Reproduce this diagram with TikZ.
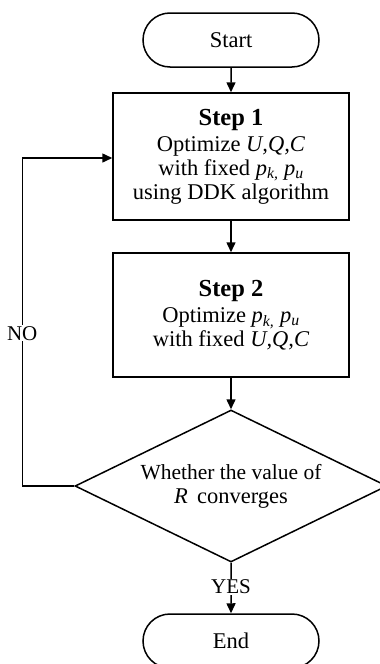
\documentclass[tikz,border=0pt]{standalone}
\usepackage{fontspec}
\setmainfont{Liberation Serif}
\usetikzlibrary{arrows.meta,shapes.geometric,shapes.misc}
\newcommand{\vr}[1]{\textit{#1}}
\newcommand{\pk}{\vr{p}\textsubscript{\vr{k,}}}
\newcommand{\pu}{\vr{p}\textsubscript{\vr{u}}}
\begin{document}
\begin{tikzpicture}[x=1pt,y=1pt,
  line width=1.5pt,
  font=\fontsize{22.5}{24}\selectfont,
  terminal/.style={draw,rounded rectangle,minimum width=176pt,minimum height=54pt,inner sep=0pt},
  stepbox/.style={draw,rectangle,minimum width=236pt,align=center,inner sep=0pt},
  decision/.style={draw,diamond,minimum width=312pt,minimum height=152pt,aspect=2.05,inner sep=0pt,align=center},
  flow/.style={-{Triangle[length=10pt,width=9pt]}},
  tag/.style={fill=white,inner sep=1pt}]
\useasboundingbox (0,0) rectangle (380,-664);

\node[terminal] (start) at (231,-40) {Start};
\node[stepbox,minimum height=127pt] (s1) at (231,-156.5)
  {{\fontsize{24.5}{26}\selectfont\bfseries Step 1}\\[2pt]
   Optimize \vr{U,Q,C}\\ with fixed \pk\ \pu\\ using DDK algorithm};
\node[stepbox,minimum height=124pt] (s2) at (231,-315)
  {{\fontsize{24.5}{26}\selectfont\bfseries Step 2}\\[2pt]
   Optimize \pk\ \pu\\ with fixed \vr{U,Q,C}};
\node[decision] (dec) at (231,-486)
  {\fontsize{21.5}{27}\selectfont Whether the value of\\ \vr{R}\, converges};
\node[terminal] (end) at (231,-641) {End};

\draw[flow] (start) -- (s1);
\draw[flow] (s1) -- (s2);
\draw[flow] (s2) -- (dec);
\draw[flow] (dec.south) -- node[tag,pos=0.48] {\fontsize{21}{22}\selectfont YES} (end);
\draw[flow] (dec.west) -- ++(-52,0) coordinate (turn)
  |- node[tag,pos=0.233] {\fontsize{21}{22}\selectfont NO} ([yshift=-1.5pt]s1.west);
\end{tikzpicture}
\end{document}
